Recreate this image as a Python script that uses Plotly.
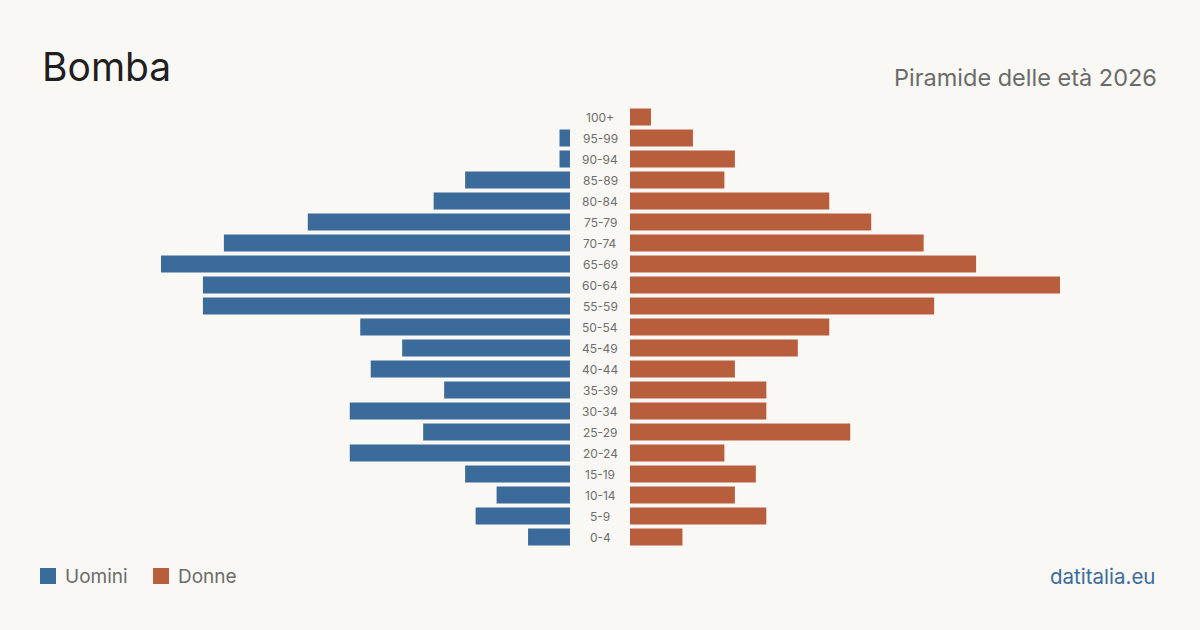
import plotly.graph_objects as go

age_groups = ["0-4", "5-9", "10-14", "15-19", "20-24", "25-29", "30-34", "35-39",
              "40-44", "45-49", "50-54", "55-59", "60-64", "65-69", "70-74", "75-79",
              "80-84", "85-89", "90-94", "95-99", "100+"]
men = [4, 9, 7, 10, 21, 14, 21, 12, 19, 16, 20, 35, 35, 39, 33, 25, 13, 10, 1, 1, 0]
women = [5, 13, 10, 12, 9, 21, 13, 13, 10, 16, 19, 29, 41, 33, 28, 23, 19, 9, 10, 6, 2]

title = "Bomba"
subtitle = "Piramide delle età 2026"
source = "datitalia.eu"
legend_labels = ["Uomini", "Donne"]

BLUE = "#3b6b9b"
ORANGE = "#b95e3c"
BG = "#f9f8f4"
FONT = "Inter, Roboto, sans-serif"

xmax = max(max(men), max(women))

fig = go.Figure()
fig.add_trace(go.Bar(y=age_groups, x=men, orientation="h", marker=dict(color=BLUE, line=dict(width=0)),
                     xaxis="x", yaxis="y", name=legend_labels[0], showlegend=False,
                     hoverinfo="x+y"))
fig.add_trace(go.Bar(y=age_groups, x=women, orientation="h", marker=dict(color=ORANGE, line=dict(width=0)),
                     xaxis="x2", yaxis="y2", name=legend_labels[1], showlegend=False,
                     hoverinfo="x+y"))

ydom = [1 - 547.5 / 630, 1 - 106.5 / 630]
axis_common = dict(showgrid=False, zeroline=False, showticklabels=False, showline=False, ticks="")
fig.update_layout(
    width=1200, height=630,
    margin=dict(l=0, r=0, t=0, b=0),
    paper_bgcolor=BG, plot_bgcolor=BG,
    bargap=0.19,
    font=dict(family=FONT),
    xaxis=dict(domain=[140 / 1200, 570 / 1200], range=[xmax, 0], **axis_common),
    xaxis2=dict(domain=[630 / 1200, 1060 / 1200], range=[0, xmax], **axis_common),
    yaxis=dict(domain=ydom, categoryorder="array", categoryarray=age_groups, **axis_common),
    yaxis2=dict(domain=ydom, anchor="x2", categoryorder="array", categoryarray=age_groups,
                matches="y", **axis_common),
)

annotations = []
for g in age_groups:
    annotations.append(dict(x=0.5, xref="paper", y=g, yref="y", text=g, showarrow=False,
                            font=dict(size=12, color="#6e6e6e", family=FONT),
                            xanchor="center", yanchor="middle"))
annotations.append(dict(x=40 / 1200, y=1 - 67 / 630, xref="paper", yref="paper", text=title,
                        showarrow=False, xanchor="left", yanchor="middle",
                        font=dict(size=39, color="#1f1f1f", family=FONT)))
annotations.append(dict(x=1159 / 1200, y=1 - 77 / 630, xref="paper", yref="paper", text=subtitle,
                        showarrow=False, xanchor="right", yanchor="middle",
                        font=dict(size=23.5, color="#6b6b6b", family=FONT)))
annotations.append(dict(x=1157 / 1200, y=1 - 576 / 630, xref="paper", yref="paper", text=source,
                        showarrow=False, xanchor="right", yanchor="middle",
                        font=dict(size=20.5, color="#3b6b9b", family=FONT)))
# legend
leg = [(40, BLUE, legend_labels[0]), (153, ORANGE, legend_labels[1])]
shapes = []
for x0, col, lab in leg:
    shapes.append(dict(type="rect", xref="paper", yref="paper",
                       x0=x0 / 1200, x1=(x0 + 16) / 1200, y0=1 - 584 / 630, y1=1 - 568 / 630,
                       fillcolor=col, line=dict(width=0)))
    annotations.append(dict(x=(x0 + 23) / 1200, y=1 - 576 / 630, xref="paper", yref="paper",
                            text=lab, showarrow=False, xanchor="left", yanchor="middle",
                            font=dict(size=19, color="#6b6b6b", family=FONT)))
fig.update_layout(annotations=annotations, shapes=shapes)

fig.write_html("out.html")
